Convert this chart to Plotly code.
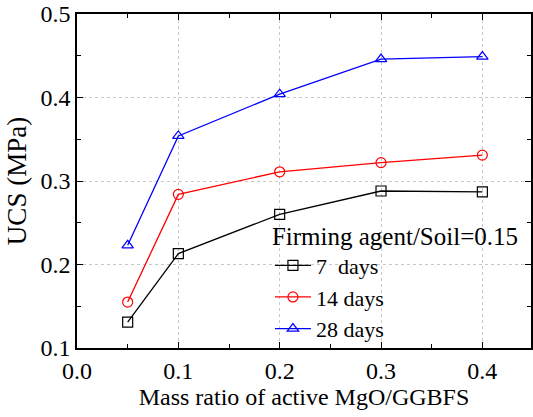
import plotly.graph_objects as go

x = [0.05, 0.1, 0.2, 0.3, 0.4]
ucs_7 = [0.131, 0.213, 0.260, 0.288, 0.287]
ucs_14 = [0.155, 0.284, 0.311, 0.322, 0.331]
ucs_28 = [0.223, 0.354, 0.404, 0.446, 0.449]

series = [
    ("7  days", ucs_7, "black", "square-open"),
    ("14 days", ucs_14, "red", "circle-open"),
    ("28 days", ucs_28, "blue", "triangle-up-open"),
]

fig = go.Figure()
for name, y, c, sym in series:
    fig.add_trace(go.Scatter(
        x=x, y=y, name=name, mode="lines+markers",
        line=dict(color=c, width=1.3),
        marker=dict(symbol=sym, size=10, color=c, line=dict(width=1.2, color=c)),
    ))

font = "Liberation Serif"
fig.update_layout(
    width=533, height=417,
    margin=dict(l=77, r=2, t=14, b=69),
    plot_bgcolor="white", paper_bgcolor="white",
    font=dict(family=font, size=24, color="black"),
    showlegend=True,
    legend=dict(
        title=dict(text="Firming agent/Soil=0.15", font=dict(size=25, family=font)),
        x=0.425, y=0.407, xanchor="left", yanchor="top",
        bgcolor="rgba(0,0,0,0)", font=dict(size=22, family=font),
        tracegroupgap=0, itemwidth=36,
    ),
)
axis_common = dict(
    showline=True, linecolor="black", linewidth=1.5, mirror="ticks",
    ticks="inside", ticklen=6, tickcolor="black", tickwidth=1,
    showgrid=True, gridcolor="#c8c8c8", griddash="dot", gridwidth=1,
    zeroline=False, automargin=False, ticklabeloverflow="allow",
    tickfont=dict(size=24, family=font, color="black"),
)
fig.update_xaxes(
    range=[0, 0.448], dtick=0.1, tickformat=".1f",
    minor=dict(dtick=0.05, ticks="inside", ticklen=4, showgrid=False, tickcolor="black"),
    title=dict(text="Mass ratio of active MgO/GGBFS", font=dict(size=24, family=font), standoff=4),
    **axis_common,
)
fig.update_yaxes(
    range=[0.1, 0.5], dtick=0.1, tickformat=".1f",
    minor=dict(dtick=0.05, ticks="inside", ticklen=4, showgrid=False, tickcolor="black"),
    title=dict(text="UCS (MPa)", font=dict(size=27, family=font), standoff=6),
    **axis_common,
)
fig.write_html(
    "out.html",
    config={"displayModeBar": False},
    post_script="document.body.style.margin='0';document.body.style.overflow='hidden';",
)
